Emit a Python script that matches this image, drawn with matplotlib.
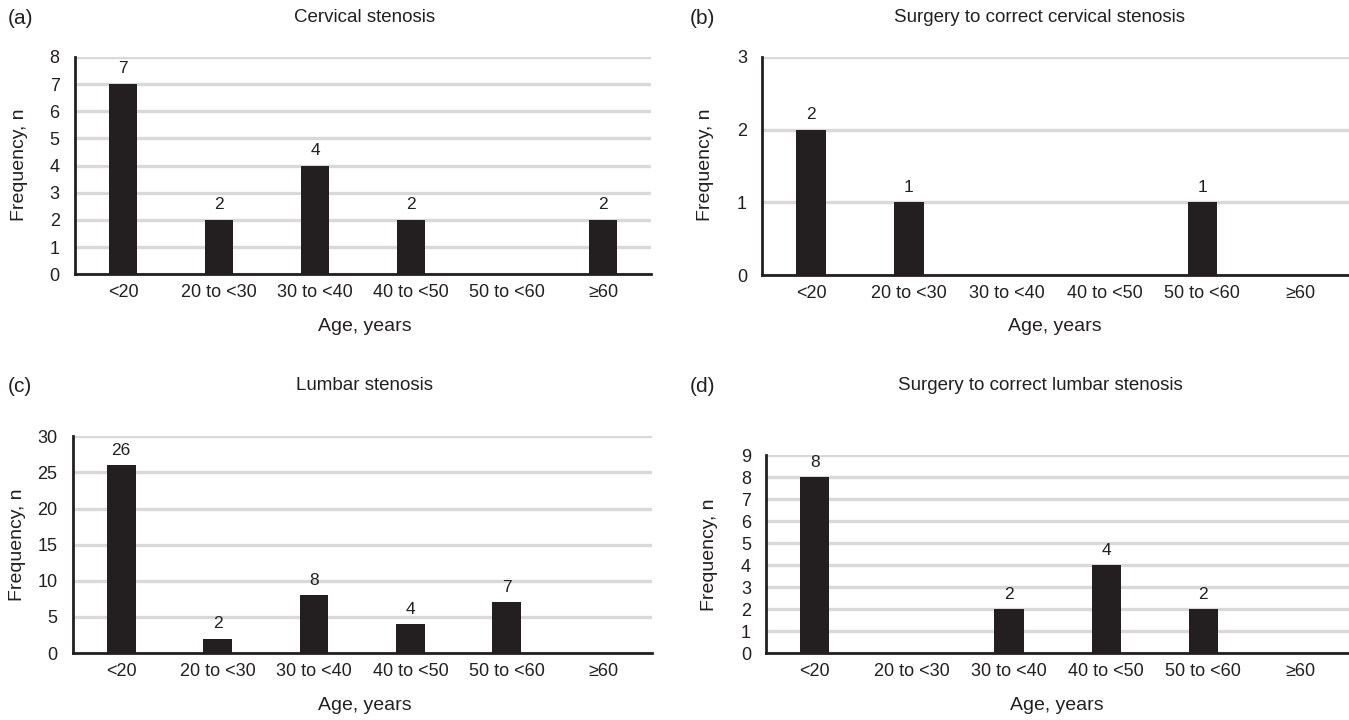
import matplotlib
matplotlib.use("Agg")
import matplotlib.pyplot as plt
import numpy as np

plt.rcParams['font.family'] = ['Liberation Sans', 'DejaVu Sans']

age_groups = ["<20", "20 to <30", "30 to <40", "40 to <50", "50 to <60", "\u226560"]

cervical = [7, 2, 4, 2, 0, 2]
cervical_surgery = [2, 1, 0, 0, 1, 0]
lumbar = [26, 2, 8, 4, 7, 0]
lumbar_surgery = [8, 0, 2, 4, 2, 0]

panels = [
    ("(a)", "Cervical stenosis", cervical, 8, 1),
    ("(b)", "Surgery to correct cervical stenosis", cervical_surgery, 3, 1),
    ("(c)", "Lumbar stenosis", lumbar, 30, 5),
    ("(d)", "Surgery to correct lumbar stenosis", lumbar_surgery, 9, 1),
]

W, H = 1349, 720

# axes boxes in figure fractions [left, bottom, width, height]
boxes = [
    [0.0556, 0.619, 0.427, 0.302],
    [0.565, 0.618, 0.435, 0.303],
    [0.054, 0.093, 0.429, 0.301],
    [0.568, 0.093, 0.432, 0.275],
]
# text positions in pixels (x, y from top)
letter_px = [(8, 18), (690, 18), (8, 386), (690, 386)]
title_px = [(365, 18), (1040, 18), (365, 386), (1040, 386)]
xlabel_px = [(365, 327), (1055, 327), (365, 705), (1057, 705)]
ylabel_px = [(20, 165), (705, 165), (18, 545), (710, 555)]

BAR = "#231f20"
GRID = "#d9d9d9"

fig = plt.figure(figsize=(W / 100, H / 100), dpi=100)


def fx(px):
    return px / W


def fy(py):
    return 1 - py / H


for i, (letter, title, vals, ymax, step) in enumerate(panels):
    ax = fig.add_axes(boxes[i])
    x = np.arange(len(age_groups))
    ax.bar(x, vals, width=0.3, color=BAR, zorder=3)
    for xi, v in zip(x, vals):
        if v > 0:
            ax.text(xi, v + ymax * 0.035, str(v), ha="center", va="bottom",
                    fontsize=12.5, color=BAR)
    ax.set_xlim(-0.5, 5.5)
    ax.set_ylim(0, ymax)
    ax.set_yticks(np.arange(0, ymax + 1, step))
    ax.set_xticks(x, labels=age_groups)
    ax.yaxis.grid(True, color=GRID, linewidth=2.4, zorder=0)
    ax.set_axisbelow(True)
    for s in ["top", "right"]:
        ax.spines[s].set_visible(False)
    for s in ["left", "bottom"]:
        ax.spines[s].set_linewidth(2)
        ax.spines[s].set_color(BAR)
    ax.tick_params(length=0, labelsize=13, colors=BAR, pad=7)
    ax.tick_params(axis="y", pad=11)

    fig.text(fx(xlabel_px[i][0]), fy(xlabel_px[i][1]), "Age, years", fontsize=14,
             color=BAR, ha="center", va="center")
    fig.text(fx(ylabel_px[i][0]), fy(ylabel_px[i][1]), "Frequency, n", fontsize=14,
             color=BAR, ha="center", va="center", rotation=90)
    fig.text(fx(letter_px[i][0]), fy(letter_px[i][1]), letter, fontsize=15,
             color=BAR, ha="left", va="center")
    fig.text(fx(title_px[i][0]), fy(title_px[i][1]), title, fontsize=13.5,
             color=BAR, ha="center", va="center")

plt.savefig("out.png", dpi=100)
